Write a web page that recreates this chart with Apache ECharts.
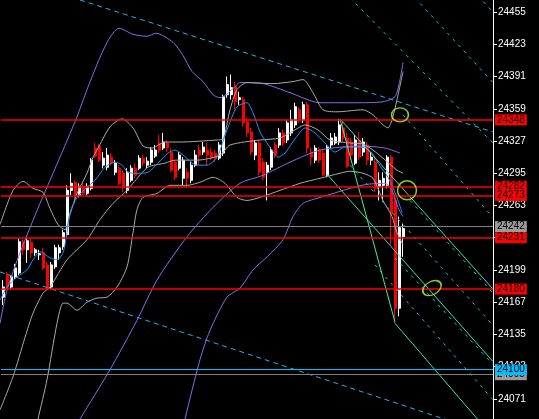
<!DOCTYPE html>
<html><head><meta charset="utf-8">
<script src="https://cdn.jsdelivr.net/npm/echarts@6/dist/echarts.min.js"></script>
<style>html,body{margin:0;padding:0;background:#000;}#c{width:539px;height:419px;}</style>
</head><body><div id="c"></div>
<script>
// ---- data ----
const categories = Array.from({length:123}, (_, i) => 'B' + i);
const open  = [24172,24195,24182,24192,24196,24227,24219,24226,24216,24214,24216,24204,24182,24202,24216,24222,24234,24278,24286,24273,24282,24275,24280,24320,24322,24303,24301,24311,24296,24300,24295,24278,24288,24300,24300,24310,24303,24306,24312,24325,24320,24325,24316,24306,24300,24290,24296,24288,24303,24318,24316,24318,24316,24315,24310,24315,24373,24373,24381,24368,24368,24346,24336,24313,24325,24306,24296,24301,24323,24323,24335,24328,24335,24343,24358,24348,24363,24316,24308,24318,24315,24293,24323,24325,24326,24340,24330,24326,24305,24328,24316,24323,24308,24306,24282,24283,24283,24311,24268,24161,24232];
const close = [24182,24182,24192,24201,24227,24219,24228,24216,24219,24215,24201,24181,24204,24221,24221,24236,24278,24285,24273,24282,24275,24282,24308,24312,24308,24310,24313,24305,24305,24285,24281,24296,24300,24293,24310,24305,24307,24318,24318,24318,24326,24320,24298,24291,24313,24308,24290,24303,24313,24313,24321,24313,24310,24310,24323,24371,24383,24380,24366,24370,24345,24335,24316,24325,24296,24291,24303,24318,24313,24335,24325,24345,24348,24361,24348,24363,24320,24311,24320,24308,24293,24321,24330,24331,24343,24330,24302,24313,24328,24311,24326,24308,24311,24280,24288,24290,24311,24255,24161,24241,24240];
const high  = [24189,24197,24194,24205,24230,24229,24231,24230,24221,24219,24221,24207,24207,24224,24224,24239,24283,24295,24288,24285,24286,24285,24310,24325,24324,24316,24320,24315,24308,24303,24298,24300,24303,24305,24313,24313,24311,24321,24323,24333,24335,24328,24320,24308,24316,24311,24300,24306,24318,24323,24326,24325,24320,24318,24326,24373,24391,24393,24386,24376,24371,24350,24340,24328,24328,24310,24306,24321,24326,24340,24338,24348,24358,24365,24361,24366,24366,24320,24323,24321,24318,24323,24335,24335,24349,24346,24335,24330,24333,24336,24330,24326,24316,24310,24296,24296,24313,24313,24273,24252,24245];
const low   = [24164,24179,24180,24190,24194,24214,24206,24211,24213,24209,24199,24179,24180,24200,24209,24219,24232,24273,24265,24271,24273,24273,24278,24310,24306,24300,24298,24303,24293,24283,24276,24275,24286,24290,24298,24302,24300,24303,24310,24315,24318,24316,24296,24288,24298,24283,24281,24285,24301,24303,24313,24303,24308,24306,24308,24312,24370,24368,24358,24363,24341,24331,24313,24308,24293,24288,24268,24298,24310,24320,24322,24325,24332,24340,24345,24345,24315,24303,24305,24305,24292,24291,24320,24323,24323,24326,24300,24308,24303,24308,24312,24303,24303,24276,24268,24268,24280,24224,24146,24153,24212];

const yTicks = [24455,24423,24391,24359,24327,24295,24263,24231,24199,24167,24135,24103,24071];

const purpleUpper = [[-0.75,24146],[1,24179],[4.25,24216],[9.25,24265],[11.75,24288],[15,24318],[18.5,24351],[21,24378],[24.25,24410],[26.75,24430],[29,24439],[32.5,24433],[36,24431],[38.25,24434],[42.5,24425],[45,24412],[47.25,24396],[50,24386],[52.5,24373],[54.25,24370],[57.5,24379],[59.25,24385],[65,24384],[71.75,24375],[79.25,24365],[89.25,24365],[95,24366],[98,24371],[99.25,24388],[100,24405]];
const purpleMiddle = [[14.5,24020],[19.25,24051],[26.75,24100],[33.5,24149],[38.5,24189],[46,24232],[52.5,24261],[59.25,24285],[65,24293],[71.75,24306],[79.25,24318],[89.25,24322],[95.5,24320],[99.25,24315]];
const purpleLower = [[43.75,24020],[45.5,24051],[49.25,24110],[51.75,24139],[56,24172],[59.25,24181],[62.5,24199],[66,24212],[70,24229],[72.5,24252],[75,24265],[79.25,24271],[81.75,24274],[86.75,24280],[91,24284],[95.5,24285],[97.5,24276],[98.75,24261],[100,24252]];
const grayUpper = [[-0.75,24244],[2.5,24278],[5,24287],[7.5,24280],[10,24276],[11.75,24260],[13.75,24244],[15.5,24239],[16.75,24254],[18.5,24275],[21,24295],[22.5,24311],[23.5,24318],[26.75,24341],[29.75,24349],[32.5,24340],[35,24322],[37.25,24320],[40.5,24326],[44.25,24326],[53.5,24328],[55,24329],[56.75,24358],[58.5,24378],[61,24385],[67.5,24384],[72.5,24386],[75,24388],[77.5,24375],[80,24358],[83.5,24356],[90,24358],[92.5,24353],[95,24343],[96.25,24340],[97.25,24348],[98.5,24368],[100,24396]];
const grayMiddle = [[-0.75,24060],[2.5,24093],[5.5,24132],[7.5,24156],[10,24176],[11.75,24182],[16,24209],[21,24229],[24.25,24249],[27.5,24265],[31,24278],[32.5,24285],[36.25,24301],[40.5,24305],[43,24308],[48.5,24308],[54.25,24313],[56.75,24323],[64.25,24328],[69.25,24330],[73,24338],[75.5,24343],[78.75,24338],[81.75,24328],[86.75,24325],[90,24324],[92.5,24318],[95,24310],[98.5,24298],[100,24295]];
const grayLower = [[7,24020],[8.75,24051],[11,24090],[13.5,24146],[15,24166],[16,24166],[18.5,24159],[21,24167],[23.5,24171],[26,24172],[28.5,24182],[31,24202],[32.5,24236],[33.5,24259],[35,24271],[38.5,24275],[41.75,24283],[46,24283],[49.25,24286],[52.5,24291],[55.5,24285],[58.5,24271],[61,24268],[64.25,24271],[69.25,24278],[74.25,24285],[79.25,24290],[84.25,24295],[86.75,24297],[90,24295],[92.5,24290],[95,24268],[97.25,24252],[98.5,24236],[100,24224]];
const blueMA = [[-0.75,24169],[1,24182],[3.5,24192],[6,24199],[7.5,24209],[9.25,24217],[11.75,24211],[13.5,24209],[15,24216],[16,24236],[16.75,24256],[18.5,24271],[21,24281],[23,24288],[25.5,24301],[28,24306],[29.75,24303],[31.25,24296],[33.75,24295],[36.25,24296],[38.75,24305],[41.25,24315],[43,24318],[45,24313],[48.5,24303],[51,24303],[53.5,24311],[56,24338],[58.5,24361],[61,24365],[62.5,24355],[64.25,24336],[65.5,24328],[67.25,24318],[68.75,24311],[70.5,24315],[72.25,24325],[73.75,24333],[75.5,24340],[78,24335],[80.5,24325],[83,24316],[85.5,24321],[88,24321],[90.5,24320],[92.25,24315],[93.75,24305],[96.25,24291],[98.5,24271],[99.75,24256]];

const channelTop = [[19.25,24467],[122.5,24336]];
const channelBottom = [[-0.75,24197],[122.5,24035]];
const steepDash1 = [[109.25,24512],[122.5,24455]];
const steepDash2 = [[100.25,24481],[122.5,24385]];
const steepDash3 = [[86.75,24469],[122.5,24325]];
const steepDash4 = [[100,24353],[122.5,24251]];
const steepDash5 = [[101.75,24268],[122.5,24176]];
const steepDash6 = [[86.75,24303],[122.5,24144]];
const steepDash7 = [[98,24211],[122.5,24105]];
const steepDash8 = [[93,24204],[122.5,24070]];

const fan1 = [[84.25,24349],[98,24147]];
const fan2 = [[84.25,24349],[122.5,24180]];
const fan3 = [[81,24294],[122.5,24108]];
const fan4 = [[98,24146],[122.5,24033]];

const ellipsePoints = [[99.25,24353],[101,24278],[107.25,24181]];

const redLevels = [24348,24282,24273,24231,24180];
const grayLevels = [24242,24095];
const cyanLevels = [24100];

// ---- chart ----
const chart = echarts.init(document.getElementById('c'));
const candleData = open.map((o, i) => [o, close[i], low[i], high[i]]);

function curve(data, color, z) {
  return {type:'line', xAxisIndex:1, yAxisIndex:0, data, symbol:'none', smooth:0.25,
    lineStyle:{color, width:1}, z: z || 3, silent:true, animation:false};
}
function straight(data, color, dash) {
  return {type:'line', xAxisIndex:1, yAxisIndex:0, data, symbol:'none', smooth:false,
    lineStyle:{color, width:1, type: dash || 'solid'}, z:4, silent:true, animation:false};
}
function level(v, lineColor, boxColor, w) {
  return {yAxis:v, lineStyle:{color:lineColor, width:w, type:'solid'},
    label:{show:true, position:'end', formatter:()=>String(v), distance:2,
      backgroundColor:boxColor, color:'#000', fontSize:10, fontFamily:'Liberation Sans',
      padding:[1,2,0,2], lineHeight:10}};
}
const levelData = []
  .concat(grayLevels.map(v => level(v, '#808080', '#9a9a9a', 1.2)))
  .concat(cyanLevels.map(v => level(v, '#00BFFF', '#00BFFF', 1.2)))
  .concat(redLevels.map(v => level(v, '#FF0000', '#FF0000', 1.5)));

const ellSizes = [[17,14],[19,19],[20,13]];
const ellRot = [0,0,30];

chart.setOption({
  animation:false,
  backgroundColor:'#000',
  grid:{left:1, right:46, top:0, bottom:0},
  xAxis:[
    {type:'category', data:categories, boundaryGap:true, show:false},
    {type:'value', min:-0.5, max:122.5, show:false}
  ],
  yAxis:{type:'value', position:'right', min:24051, max:24467, scale:true,
    axisLine:{show:true, onZero:false, lineStyle:{color:'#fff', width:1}},
    axisTick:{show:true, length:4, customValues:yTicks, lineStyle:{color:'#fff'}},
    axisLabel:{show:true, customValues:yTicks, formatter:(v)=>String(v), color:'#fff', fontSize:10, fontFamily:'Liberation Sans', margin:5},
    splitLine:{show:false}},
  series:[
    {type:'candlestick', xAxisIndex:0, yAxisIndex:0, data:candleData, barWidth:2.5, z:2,
      itemStyle:{color:'#fff', color0:'#f00', borderColor:'#fff', borderColor0:'#f00', borderWidth:1},
      markLine:{symbol:['none','none'], silent:true, animation:false, z:5, data:levelData}},
    curve(purpleUpper, '#8A6CE8'),
    curve(purpleMiddle, '#8A6CE8'),
    curve(purpleLower, '#8A6CE8'),
    curve(grayUpper, '#AAAAAA'),
    curve(grayMiddle, '#AAAAAA'),
    curve(grayLower, '#AAAAAA'),
    curve(blueMA, '#1E90FF'),
    straight(channelTop, '#1EB4F0', [5,4]),
    straight(channelBottom, '#1EB4F0', [5,4]),
    straight(steepDash1, '#00CED1', [3,5]),
    straight(steepDash2, '#00CED1', [3,5]),
    straight(steepDash3, '#00CED1', [3,5]),
    straight(steepDash4, '#00CED1', [3,5]),
    straight(steepDash5, '#00CED1', [3,5]),
    straight(steepDash6, '#00CED1', [3,5]),
    straight(steepDash7, '#00CED1', [3,5]),
    straight(steepDash8, '#00CED1', [3,5]),
    straight(fan1, '#40F0A0'),
    straight(fan2, '#30E8B0'),
    straight(fan3, '#30E8B0'),
    straight(fan4, '#30E8B0'),
    {type:'scatter', xAxisIndex:1, yAxisIndex:0, z:6, silent:true,
      data: ellipsePoints.map((p, i) => ({value:p, symbolSize:ellSizes[i], symbolRotate:ellRot[i]})),
      symbol:'circle',
      itemStyle:{color:'rgba(0,0,0,0)', borderColor:'#ADFF2F', borderWidth:1.5}}
  ]
});
</script></body></html>
